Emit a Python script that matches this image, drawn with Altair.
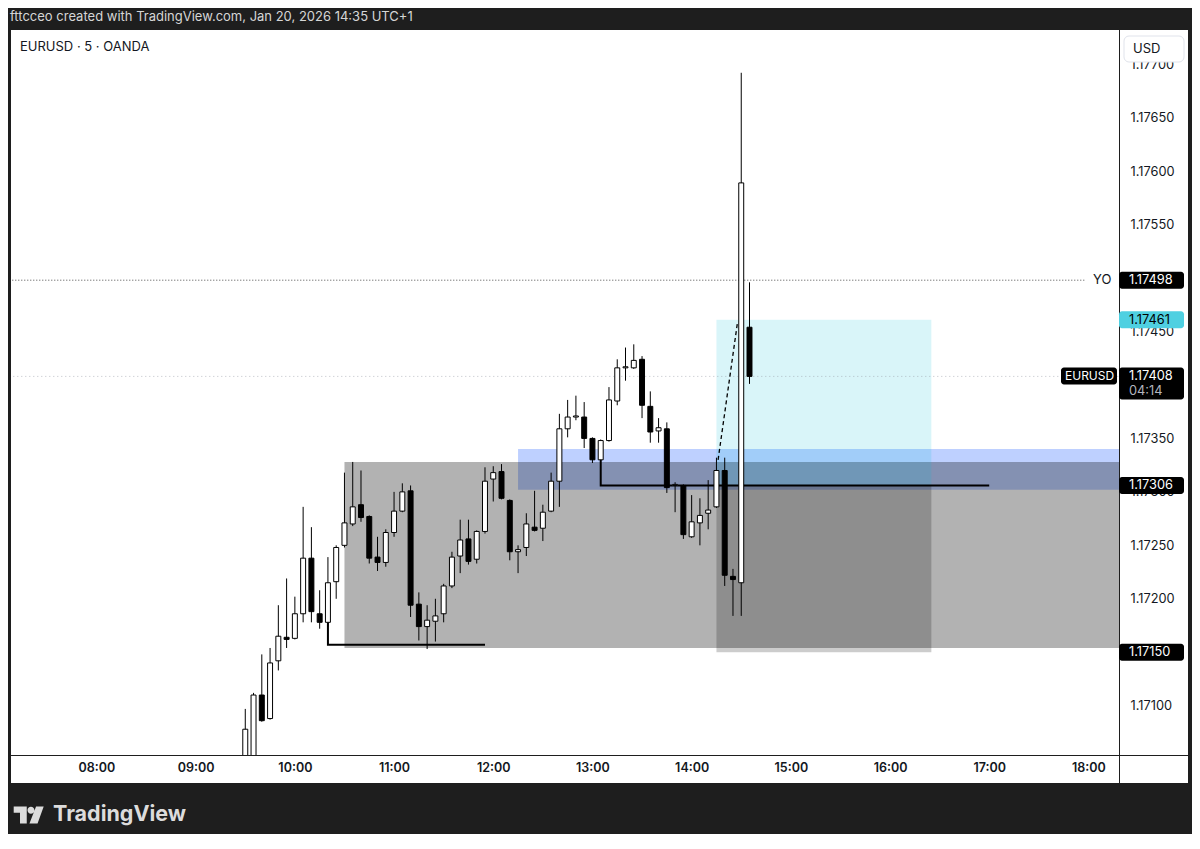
import altair as alt
import numpy as np
import pandas as pd

# ---------------- data ----------------
times = ["09:30", "09:35", "09:40", "09:45", "09:50", "09:55",
         "10:00", "10:05", "10:10", "10:15", "10:20", "10:25", "10:30", "10:35", "10:40", "10:45", "10:50", "10:55",
         "11:00", "11:05", "11:10", "11:15", "11:20", "11:25", "11:30", "11:35", "11:40", "11:45", "11:50", "11:55",
         "12:00", "12:05", "12:10", "12:15", "12:20", "12:25", "12:30", "12:35", "12:40", "12:45", "12:50", "12:55",
         "13:00", "13:05", "13:10", "13:15", "13:20", "13:25", "13:30", "13:35", "13:40", "13:45", "13:50", "13:55",
         "14:00", "14:05", "14:10", "14:15", "14:20", "14:25", "14:30", "14:35"]
opens = [1.17040, 1.17045, 1.17110, 1.17088, 1.17142, 1.17164,
         1.17163, 1.17186, 1.17238, 1.17186, 1.17178, 1.17216, 1.17250, 1.17270, 1.17288, 1.17277, 1.17239, 1.17234,
         1.17262, 1.17282, 1.17301, 1.17195, 1.17174, 1.17179, 1.17186, 1.17212, 1.17240, 1.17256, 1.17237, 1.17263,
         1.17312, 1.17319, 1.17292, 1.17244, 1.17248, 1.17267, 1.17266, 1.17282, 1.17310, 1.17359, 1.17370, 1.17370,
         1.17350, 1.17330, 1.17348, 1.17385, 1.17416, 1.17416, 1.17424, 1.17380, 1.17357, 1.17359, 1.17306, 1.17306,
         1.17258, 1.17271, 1.17280, 1.17286, 1.17320, 1.17221, 1.17215, 1.17454]
highs = [1.17097, 1.17112, 1.17148, 1.17154, 1.17194, 1.17219,
         1.17202, 1.17286, 1.17267, 1.17208, 1.17239, 1.17250, 1.17318, 1.17328, 1.17320, 1.17278, 1.17258, 1.17265,
         1.17300, 1.17308, 1.17306, 1.17206, 1.17194, 1.17200, 1.17214, 1.17244, 1.17274, 1.17274, 1.17264, 1.17323,
         1.17324, 1.17326, 1.17293, 1.17250, 1.17280, 1.17301, 1.17288, 1.17318, 1.17373, 1.17386, 1.17390, 1.17384,
         1.17351, 1.17349, 1.17398, 1.17424, 1.17435, 1.17438, 1.17427, 1.17394, 1.17369, 1.17365, 1.17309, 1.17307,
         1.17297, 1.17294, 1.17311, 1.17332, 1.17332, 1.17228, 1.17692, 1.17496]
lows = [1.17035, 1.17040, 1.17085, 1.17087, 1.17133, 1.17154,
        1.17162, 1.17178, 1.17178, 1.17172, 1.17174, 1.17200, 1.17248, 1.17268, 1.17272, 1.17233, 1.17226, 1.17230,
        1.17258, 1.17281, 1.17183, 1.17161, 1.17153, 1.17160, 1.17178, 1.17210, 1.17224, 1.17232, 1.17233, 1.17261,
        1.17291, 1.17293, 1.17236, 1.17224, 1.17240, 1.17263, 1.17254, 1.17281, 1.17286, 1.17351, 1.17367, 1.17341,
        1.17327, 1.17329, 1.17347, 1.17381, 1.17404, 1.17415, 1.17369, 1.17346, 1.17346, 1.17299, 1.17281, 1.17256,
        1.17257, 1.17250, 1.17265, 1.17285, 1.17212, 1.17184, 1.17184, 1.17401]
closes = [1.17078, 1.17110, 1.17086, 1.17140, 1.17165, 1.17162,
          1.17186, 1.17238, 1.17188, 1.17178, 1.17215, 1.17248, 1.17271, 1.17286, 1.17276, 1.17238, 1.17234, 1.17262,
          1.17282, 1.17300, 1.17194, 1.17174, 1.17180, 1.17184, 1.17212, 1.17239, 1.17255, 1.17235, 1.17263, 1.17310,
          1.17318, 1.17294, 1.17244, 1.17246, 1.17270, 1.17264, 1.17281, 1.17310, 1.17359, 1.17370, 1.17371, 1.17350,
          1.17330, 1.17348, 1.17386, 1.17416, 1.17417, 1.17423, 1.17381, 1.17356, 1.17360, 1.17304, 1.17307, 1.17260,
          1.17272, 1.17278, 1.17283, 1.17320, 1.17222, 1.17218, 1.17589, 1.17408]

# price ticks that are visible (1.17150, 1.17400 and 1.17500 are covered by price tags)
price_ticks = [1.17100, 1.17200, 1.17250, 1.17300, 1.17350,
               1.17450, 1.17550, 1.17600, 1.17650, 1.17700]
hour_ticks = ["08:00", "09:00", "10:00", "11:00", "12:00", "13:00",
              "14:00", "15:00", "16:00", "17:00", "18:00"]

# zones: [start time, end time, top price, bottom price]
blue_zone = ["12:15", "18:30", 1.17340, 1.17302]
gray_zone = ["10:30", "18:30", 1.17328, 1.17154]
target_zone = ["14:15", "16:25", 1.17461, 1.17306]
stop_zone = ["14:15", "16:25", 1.17306, 1.17150]

# drawn paths
path1_times = ["10:20", "10:20", "11:55"]
path1_prices = [1.17178, 1.17157, 1.17157]
path2_times = ["13:05", "13:05", "17:00"]
path2_prices = [1.17330, 1.17306, 1.17306]
dash_times = ["14:16", "14:27.6", "14:30"]
dash_prices = [1.17330, 1.17457, 1.17461]

yo_price = 1.17498
yo_times = ["07:00", "17:58"]
last_price = 1.17408
last_times = ["07:00", "18:30"]
target_price = 1.17461
entry_price = 1.17306
stop_price = 1.17150
countdown = "04:14"
symbol = "EURUSD"

view_start, view_end = 428.9, 1098.5          # minutes of day shown
price_low, price_high = 1.170539, 1.177292    # price range shown

FONT = "Inter"
INK = "#131722"
DARK = "#1e1e1e"
TAG_FS = 12.8


def minutes(s):
    h, m = s.split(":")
    return int(h) * 60 + float(m)


xs = alt.Scale(domain=[view_start, view_end], nice=False, zero=False)
ys = alt.Scale(domain=[price_low, price_high], nice=False, zero=False)

one = pd.DataFrame({"k": [0]})

# ---------------- candle table ----------------
df = pd.DataFrame({"time": times, "open": opens, "high": highs, "low": lows, "close": closes})
df["t"] = df["time"].map(minutes)
df["t0"] = df["t"] - 1.5
df["t1"] = df["t"] + 1.5
df["fill"] = np.where(df["close"] >= df["open"], "#ffffff", "#000000")

xaxis = alt.Axis(values=[minutes(s) for s in hour_ticks],
                 labelExpr="(datum.value < 600 ? '0' : '') + floor(datum.value / 60) + ':00'",
                 title=None, ticks=False, domain=False, grid=False, labelFont=FONT,
                 labelFontSize=12.5, labelFontWeight=600, labelColor=INK, labelPadding=6,
                 labelOverlap=False, labelFlush=False, zindex=0)
yaxis = alt.Axis(orient="right", values=price_ticks, format=".5f", title=None, ticks=False,
                 domain=False, grid=False, labelFont=FONT, labelFontSize=TAG_FS, labelColor=INK,
                 labelPadding=11, labelOverlap=False, zindex=0)


def X(f, **kw):
    return alt.X(f, type="quantitative", scale=xs, axis=xaxis, **kw)


def Y(f, **kw):
    return alt.Y(f, type="quantitative", scale=ys, axis=yaxis, **kw)


def vrect(x, x2, y, y2, **kw):
    return alt.Chart(one).mark_rect(**kw).encode(
        x=alt.value(x), x2=alt.value(x2), y=alt.value(y), y2=alt.value(y2))


def vtext(x, y, text, **kw):
    args = dict(align="left", baseline="middle", font=FONT)
    args.update(kw)
    return alt.Chart(one).mark_text(text=text, **args).encode(x=alt.value(x), y=alt.value(y))


def zone(z, **kw):
    d = pd.DataFrame({"s": [minutes(z[0])], "e": [minutes(z[1])], "top": [z[2]], "bot": [z[3]]})
    return alt.Chart(d).mark_rect(clip=True, **kw).encode(
        x=X("s"), x2="e", y=Y("top"), y2="bot")


def path(ts, ps, **kw):
    d = pd.DataFrame({"t": [minutes(s) for s in ts], "p": ps, "i": range(len(ts))})
    return alt.Chart(d).mark_line(clip=True, **kw).encode(x=X("t"), y=Y("p"), order="i:Q")


def hline(price, ts, **kw):
    d = pd.DataFrame({"p": [price], "s": [minutes(ts[0])], "e": [minutes(ts[1])]})
    return alt.Chart(d).mark_rule(clip=True, **kw).encode(x=X("s"), x2="e", y=Y("p"))


def tag(price, fill, color, top=-8.5, bottom=8.5, x0=1107, x1=1172, text=None, tx=1117, fs=TAG_FS):
    d = pd.DataFrame({"p": [price]})
    box = alt.Chart(d).mark_rect(cornerRadius=3, yOffset=top, y2Offset=bottom, color=fill).encode(
        x=alt.value(x0), x2=alt.value(x1), y=Y("p"), y2="p")
    if text is None:
        label = alt.Chart(d).mark_text(align="left", baseline="middle", font=FONT, fontSize=fs,
                                       color=color).encode(
            x=alt.value(tx), y=Y("p"), text=alt.Text("p:Q", format=".5f"))
    else:
        label = alt.Chart(d).mark_text(align="left", baseline="middle", font=FONT, fontSize=fs,
                                       color=color, text=text).encode(x=alt.value(tx), y=Y("p"))
    return [box, label]


layers = []

# zones (drawn behind candles)
layers.append(zone(blue_zone, color="#2962ff", opacity=0.3))
layers.append(zone(gray_zone, color="#000000", opacity=0.3))
layers.append(zone(target_zone, color="#00bcd4", opacity=0.15))
layers.append(zone(stop_zone, color="#000000", opacity=0.2))

# reference lines
layers.append(hline(last_price, last_times, color="#9598a1", strokeDash=[1, 3], strokeWidth=1, opacity=0.6))
layers.append(hline(yo_price, yo_times, color="#4a4a4a", strokeDash=[1, 2], strokeWidth=1))

# drawings
layers.append(path(path1_times, path1_prices, color="#000000", strokeWidth=2))
layers.append(path(path2_times, path2_prices, color="#000000", strokeWidth=2))
layers.append(path(dash_times, dash_prices, color="#000000", strokeWidth=1.3, strokeDash=[4, 3]))

# candles
wicks = alt.Chart(df).mark_rule(clip=True, color="#000000", strokeWidth=1).encode(
    x=X("t"), y=Y("low"), y2="high")
bodies = alt.Chart(df).mark_rect(clip=True, stroke="#000000", strokeWidth=1).encode(
    x=X("t0"), x2="t1", y=Y("open"), y2="close",
    fill=alt.Fill("fill:N", scale=None))
layers += [wicks, bodies]

# dark frame around the white panel (plot origin is at page 12,33)
layers.append(vrect(-4, 1180, -25, -3, color=DARK))
layers.append(vrect(-4, 1180, 750, 801, color=DARK))
layers.append(vrect(-4, -1, -25, 801, color=DARK))
layers.append(vrect(1176, 1180, -25, 801, color=DARK))

# pane separators
layers.append(alt.Chart(one).mark_rule(color="#1e1e1e", strokeWidth=1).encode(
    x=alt.value(1107.5), y=alt.value(-3), y2=alt.value(750)))
layers.append(alt.Chart(one).mark_rule(color="#1e1e1e", strokeWidth=1).encode(
    x=alt.value(-1), x2=alt.value(1176), y=alt.value(722.5)))

# price tags
layers += tag(yo_price, "#000000", "#ffffff")
layers += tag(target_price, "#4fd0e1", "#000000", x0=1107)
layers += tag(entry_price, "#000000", "#ffffff")
layers += tag(stop_price, "#000000", "#ffffff")
layers += tag(last_price, "#000000", "#ffffff", top=-9, bottom=23)
layers += tag(last_price, "#000000", "#ffffff", top=-9, bottom=8, x0=1049, x1=1105, text=symbol,
              tx=1053, fs=12)
layers.append(alt.Chart(pd.DataFrame({"p": [last_price]})).mark_text(
    align="left", baseline="middle", font=FONT, fontSize=TAG_FS, color="#b2b5be", text=countdown, dy=14.5
).encode(x=alt.value(1117), y=Y("p")))

# "YO" label of the yearly-open line
layers.append(alt.Chart(pd.DataFrame({"p": [yo_price]})).mark_text(
    align="left", baseline="middle", font=FONT, fontSize=13, color=INK, text="YO"
).encode(x=alt.value(1081), y=Y("p")))

# currency button
layers.append(vrect(1112, 1172, 3, 29, color="#ffffff", stroke="#e0e3eb", strokeWidth=1, cornerRadius=5))
layers.append(vtext(1121, 15.5, "USD", fontSize=13, color=INK))

# texts
layers.append(vtext(-2, -16, "fttcceo created with TradingView.com, Jan 20, 2026 14:35 UTC+1",
                    fontSize=13, color="#d6d6d6"))
layers.append(vtext(8, 14, "EURUSD · 5 · OANDA", fontSize=13, color=INK))

# footer logo
LOGO = ("M-1,-0.57 L-0.13,-0.57 L-0.13,0.57 L-0.58,0.57 L-0.58,-0.15 L-1,-0.15 Z "
        "M-0.08,-0.32 A0.23,0.23 0 1,0 0.38,-0.32 A0.23,0.23 0 1,0 -0.08,-0.32 Z "
        "M0.49,-0.57 L1,-0.57 L0.59,0.57 L0.05,0.57 Z")
layers.append(alt.Chart(one).mark_point(shape=LOGO, size=900, filled=True, color="#dcdcdc",
                                        opacity=1, strokeWidth=0).encode(
    x=alt.value(16.7), y=alt.value(782)))
layers.append(vtext(41, 782, "TradingView", fontSize=21.5, fontWeight="bold", color="#dcdcdc"))

chart = alt.layer(*layers).properties(
    width=1107, height=722,
    padding={"left": 4, "top": 25, "right": 73, "bottom": 79},
    autosize=alt.AutoSizeParams(type="none"),
    background="#ffffff",
    usermeta={"embedOptions": {"defaultStyle": "body{background:#1e1e1e;}"}},
).configure_view(stroke=None)

chart.save("out.html", embed_options={"renderer": "svg", "actions": False})
